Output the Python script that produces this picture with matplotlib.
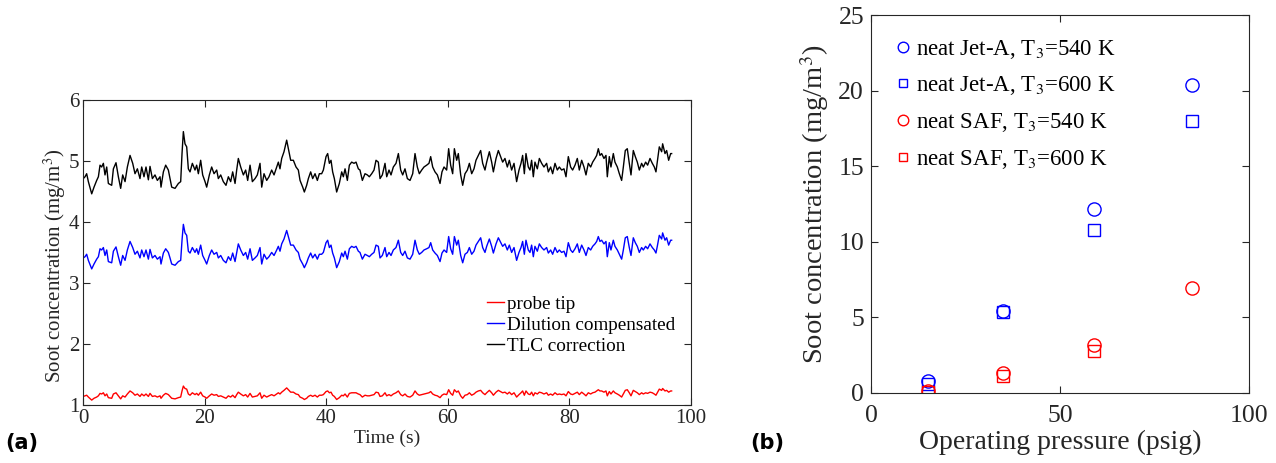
import matplotlib
matplotlib.use("Agg")
import matplotlib.pyplot as plt

# ---------------- data: panel (a) ----------------
time_s = [0.0, 0.28, 0.55, 0.83, 1.38, 1.76, 2.20, 2.48, 2.75, 3.02, 3.30, 3.57, 3.85, 4.12, 4.67, 4.95, 5.38, 5.77, 6.15, 6.48,
          6.87, 7.25, 7.69, 8.13, 8.51, 8.90, 9.33, 9.61, 9.99, 10.32, 10.71, 10.98, 11.37, 11.80, 12.19, 12.63, 12.79, 13.18, 13.56, 14.00,
          14.27, 14.55, 15.10, 15.65, 16.03, 16.25, 16.47, 16.74, 17.02, 17.29, 17.57, 17.95, 18.39, 18.66, 18.94, 19.32, 19.65, 20.04, 20.31, 20.75,
          21.13, 21.52, 21.96, 22.23, 22.62, 23.05, 23.49, 23.88, 24.26, 24.59, 24.98, 25.25, 25.52, 25.91, 26.35, 26.73, 27.06, 27.45, 27.83, 28.27,
          28.65, 29.09, 29.37, 29.75, 30.19, 30.57, 31.01, 31.40, 31.84, 32.11, 32.38, 32.66, 33.04, 33.48, 33.87, 34.14,
          34.58, 35.02, 35.40, 35.68, 36.12, 36.39, 36.77, 37.05, 37.43, 37.76, 38.15, 38.53, 38.86, 39.24, 39.52, 39.96, 40.23, 40.51, 40.78, 41.05,
          41.33, 41.71, 42.15, 42.54, 42.81, 43.09, 43.47, 43.80, 44.18, 44.57, 44.90, 45.28, 45.55, 45.94, 46.38, 46.76, 47.09, 47.48, 47.86, 48.19,
          48.57, 48.85, 49.23, 49.67, 49.95, 50.33, 50.66, 51.04, 51.48, 51.87, 52.25, 52.58, 52.96, 53.35, 53.79, 54.23, 54.61, 54.99, 55.32, 55.71,
          56.09, 56.53, 56.91, 57.19, 57.52, 57.90, 58.29, 58.73, 59.05, 59.39, 59.82, 60.15, 60.48, 60.81, 61.09, 61.47, 61.74, 62.13, 62.46, 62.84,
          63.23, 63.56, 63.94, 64.32, 64.65, 65.04, 65.42, 65.75, 66.13, 66.41, 66.85, 67.23, 67.51, 67.95, 68.33,
          69.04, 69.42, 69.81, 70.14, 70.52, 70.91, 71.34, 71.73, 72.06, 72.33, 72.61, 72.88, 73.26, 73.54, 73.81, 74.09, 74.36, 74.75, 75.08, 75.46,
          75.84, 76.28, 76.56, 76.94, 77.27, 77.66, 78.04, 78.37, 78.75, 79.14, 79.47, 79.85, 80.23, 80.56, 80.95, 81.33, 81.66, 82.05, 82.43, 82.76,
          83.14, 83.53, 83.86, 84.24, 84.52, 84.79, 85.06, 85.34, 85.72, 86.05, 86.27, 86.60, 86.87, 87.26, 87.53, 87.92, 88.25, 88.63, 88.91, 89.23,
          89.56, 89.89, 90.17, 90.55, 90.88, 91.21, 91.54, 91.92, 92.20, 92.58, 92.91, 93.30, 93.68, 94.01, 94.28, 94.50, 94.83, 95.22, 95.38, 95.77,
          96.04, 96.37, 96.70, 96.86]

tlc_correction = [4.71, 4.74, 4.79, 4.66, 4.46, 4.57, 4.68, 4.74, 4.93, 4.90, 4.96, 4.77, 4.90, 4.63, 4.60, 4.87, 4.97, 4.74, 4.55, 4.77,
                  4.66, 4.90, 5.09, 4.96, 4.79, 4.87, 4.71, 4.90, 4.74, 4.90, 4.69, 4.91, 4.71, 4.77, 4.68, 4.74, 4.57, 4.82, 4.93, 4.85,
                  4.71, 4.57, 4.55, 4.63, 4.66, 5.12, 5.48, 5.28, 5.23, 4.87, 4.82, 4.96, 4.85, 4.93, 4.79, 5.01, 4.77, 4.66, 4.57, 4.77,
                  4.90, 4.79, 4.85, 4.71, 4.77, 4.66, 4.60, 4.74, 4.66, 4.82, 4.63, 4.85, 5.04, 4.90, 4.77, 4.85, 4.68, 4.93, 4.66, 4.71,
                  4.77, 4.96, 4.57, 4.79, 4.68, 4.74, 4.85, 4.77, 4.90, 4.98, 4.87, 5.04, 5.15, 5.34, 5.15, 5.01,
                  5.01, 4.90, 4.85, 4.68, 4.57, 4.49, 4.60, 4.71, 4.82, 4.71, 4.79, 4.68, 4.79, 4.79, 4.85, 5.07, 5.12, 4.96, 5.01, 4.82,
                  4.71, 4.49, 4.63, 4.82, 4.74, 4.87, 4.68, 4.93, 4.98, 4.96, 4.98, 4.87, 4.85, 4.68, 4.79, 4.77, 4.74, 4.79, 4.85, 5.01,
                  4.98, 4.71, 4.77, 4.96, 4.74, 4.85, 4.77, 4.90, 4.96, 5.12, 4.85, 4.77, 4.87, 4.71, 4.68, 4.79, 5.12, 4.90, 4.79, 4.85,
                  4.90, 4.93, 4.96, 5.07, 4.90, 4.82, 4.77, 4.63, 4.82, 4.90, 4.85, 5.20, 4.93, 4.79, 5.20, 5.01, 5.12, 4.77, 4.60, 4.79,
                  4.85, 4.96, 4.79, 4.87, 5.01, 5.09, 5.17, 4.96, 4.85, 4.98, 5.15, 4.98, 4.82, 5.04, 5.17,
                  4.98, 5.04, 4.90, 5.01, 4.85, 4.96, 4.66, 4.85, 4.96, 5.09, 4.79, 5.12, 4.90, 4.85, 5.01, 4.74, 4.98, 4.87, 5.04, 4.96,
                  4.90, 4.96, 4.82, 4.90, 4.79, 4.96, 4.85, 4.90, 4.85, 4.87, 4.74, 5.07, 4.90, 4.85, 4.93, 5.04, 4.85, 5.01, 4.90, 4.77,
                  4.96, 4.90, 4.98, 5.04, 5.09, 5.20, 5.09, 5.12, 5.04, 5.09, 4.74, 5.07, 4.90, 5.12, 4.98, 4.90, 4.79, 4.68, 4.90, 5.17,
                  5.20, 4.96, 4.77, 5.17, 5.07, 4.98, 4.85, 4.96, 4.90, 4.98, 4.93, 5.04, 4.96, 4.90, 4.82, 4.98, 5.23, 5.15, 5.28, 5.12,
                  5.17, 5.01, 5.12, 5.12]

dilution_compensated = [3.41, 3.43, 3.47, 3.37, 3.23, 3.31, 3.39, 3.43, 3.56, 3.54, 3.58, 3.45, 3.54, 3.35, 3.33, 3.52, 3.59, 3.43, 3.29, 3.45,
                        3.37, 3.54, 3.68, 3.58, 3.47, 3.52, 3.41, 3.54, 3.43, 3.54, 3.39, 3.55, 3.41, 3.45, 3.39, 3.43, 3.31, 3.49, 3.56, 3.50,
                        3.41, 3.31, 3.29, 3.35, 3.37, 3.70, 3.96, 3.82, 3.78, 3.52, 3.49, 3.58, 3.50, 3.56, 3.47, 3.62, 3.45, 3.37, 3.31, 3.45,
                        3.54, 3.47, 3.50, 3.41, 3.45, 3.37, 3.33, 3.43, 3.37, 3.49, 3.35, 3.50, 3.64, 3.54, 3.45, 3.50, 3.39, 3.56, 3.37, 3.41,
                        3.45, 3.58, 3.31, 3.47, 3.39, 3.43, 3.50, 3.45, 3.54, 3.60, 3.52, 3.64, 3.72, 3.86, 3.72, 3.62,
                        3.62, 3.54, 3.50, 3.39, 3.31, 3.25, 3.33, 3.41, 3.49, 3.41, 3.47, 3.39, 3.47, 3.47, 3.50, 3.66, 3.70, 3.58, 3.62, 3.49,
                        3.41, 3.25, 3.35, 3.49, 3.43, 3.52, 3.39, 3.56, 3.60, 3.58, 3.60, 3.52, 3.50, 3.39, 3.47, 3.45, 3.43, 3.47, 3.50, 3.62,
                        3.60, 3.41, 3.45, 3.58, 3.43, 3.50, 3.45, 3.54, 3.58, 3.70, 3.50, 3.45, 3.52, 3.41, 3.39, 3.47, 3.70, 3.54, 3.47, 3.50,
                        3.54, 3.56, 3.58, 3.66, 3.54, 3.49, 3.45, 3.35, 3.49, 3.54, 3.50, 3.76, 3.56, 3.47, 3.76, 3.62, 3.70, 3.45, 3.33, 3.47,
                        3.50, 3.58, 3.47, 3.52, 3.62, 3.68, 3.74, 3.58, 3.50, 3.60, 3.72, 3.60, 3.49, 3.64, 3.74,
                        3.60, 3.64, 3.54, 3.62, 3.50, 3.58, 3.37, 3.50, 3.58, 3.68, 3.47, 3.70, 3.54, 3.50, 3.62, 3.43, 3.60, 3.52, 3.64, 3.58,
                        3.54, 3.58, 3.49, 3.54, 3.47, 3.58, 3.50, 3.54, 3.50, 3.52, 3.43, 3.66, 3.54, 3.50, 3.56, 3.64, 3.50, 3.62, 3.54, 3.45,
                        3.58, 3.54, 3.60, 3.64, 3.68, 3.76, 3.68, 3.70, 3.64, 3.68, 3.43, 3.66, 3.54, 3.70, 3.60, 3.54, 3.47, 3.39, 3.54, 3.74,
                        3.76, 3.58, 3.45, 3.74, 3.66, 3.60, 3.50, 3.58, 3.54, 3.60, 3.56, 3.64, 3.58, 3.54, 3.49, 3.60, 3.78, 3.72, 3.82, 3.70,
                        3.74, 3.62, 3.70, 3.70]

probe_tip = [1.14, 1.15, 1.16, 1.13, 1.08, 1.11, 1.13, 1.15, 1.19, 1.18, 1.20, 1.15, 1.18, 1.12, 1.11, 1.18, 1.20, 1.15, 1.10, 1.15,
             1.13, 1.18, 1.23, 1.20, 1.16, 1.18, 1.14, 1.18, 1.15, 1.18, 1.14, 1.19, 1.14, 1.15, 1.13, 1.15, 1.11, 1.16, 1.19, 1.17,
             1.14, 1.11, 1.10, 1.12, 1.13, 1.23, 1.31, 1.27, 1.26, 1.18, 1.16, 1.20, 1.17, 1.19, 1.16, 1.21, 1.15, 1.13, 1.11, 1.15,
             1.18, 1.16, 1.17, 1.14, 1.15, 1.13, 1.11, 1.15, 1.13, 1.16, 1.12, 1.17, 1.21, 1.18, 1.15, 1.17, 1.13, 1.19, 1.13, 1.14,
             1.15, 1.20, 1.11, 1.16, 1.13, 1.15, 1.17, 1.15, 1.18, 1.20, 1.18, 1.21, 1.24, 1.28, 1.24, 1.21,
             1.21, 1.18, 1.17, 1.13, 1.11, 1.09, 1.11, 1.14, 1.16, 1.14, 1.16, 1.13, 1.16, 1.16, 1.17, 1.22, 1.23, 1.20, 1.21, 1.16,
             1.14, 1.09, 1.12, 1.16, 1.15, 1.18, 1.13, 1.19, 1.20, 1.20, 1.20, 1.18, 1.17, 1.13, 1.16, 1.15, 1.15, 1.16, 1.17, 1.21,
             1.20, 1.14, 1.15, 1.20, 1.15, 1.17, 1.15, 1.18, 1.20, 1.23, 1.17, 1.15, 1.18, 1.14, 1.13, 1.16, 1.23, 1.18, 1.16, 1.17,
             1.18, 1.19, 1.20, 1.22, 1.18, 1.16, 1.15, 1.12, 1.16, 1.18, 1.17, 1.25, 1.19, 1.16, 1.25, 1.21, 1.23, 1.15, 1.11, 1.16,
             1.17, 1.20, 1.16, 1.18, 1.21, 1.23, 1.24, 1.20, 1.17, 1.20, 1.24, 1.20, 1.16, 1.21, 1.24,
             1.20, 1.21, 1.18, 1.21, 1.17, 1.20, 1.13, 1.17, 1.20, 1.23, 1.16, 1.23, 1.18, 1.17, 1.21, 1.15, 1.20, 1.18, 1.21, 1.20,
             1.18, 1.20, 1.16, 1.18, 1.16, 1.20, 1.17, 1.18, 1.17, 1.18, 1.15, 1.22, 1.18, 1.17, 1.19, 1.21, 1.17, 1.21, 1.18, 1.15,
             1.20, 1.18, 1.20, 1.21, 1.23, 1.25, 1.23, 1.23, 1.21, 1.23, 1.15, 1.22, 1.18, 1.23, 1.20, 1.18, 1.16, 1.13, 1.18, 1.24,
             1.25, 1.20, 1.15, 1.24, 1.22, 1.20, 1.17, 1.20, 1.18, 1.20, 1.19, 1.21, 1.20, 1.18, 1.16, 1.20, 1.26, 1.24, 1.27, 1.23,
             1.24, 1.21, 1.23, 1.23]

series_a_labels = ["probe tip", "Dilution compensated", "TLC correction"]
a_xticks = [0, 20, 40, 60, 80, 100]
a_yticks = [1, 2, 3, 4, 5, 6]

# ---------------- data: panel (b) ----------------
pressure_psig = [15, 35, 59, 85]
jetA_540 = [0.8, 5.4, 12.2, 20.35]
jetA_600 = [0.6, 5.35, 10.75, 18.0]
saf_540 = [0.1, 1.3, 3.15, 6.95]
saf_600_pressure = [15, 35, 59]
saf_600 = [0.05, 1.12, 2.8]
series_b_labels = ["neat Jet-A, T$_3$=540 K", "neat Jet-A, T$_3$=600 K",
                   "neat SAF, T$_3$=540 K", "neat SAF, T$_3$=600 K"]
b_xticks = [0, 50, 100]
b_yticks = [0, 5, 10, 15, 20, 25]

# ---------------- style ----------------
plt.rcParams['font.family'] = ['Liberation Serif', 'DejaVu Serif']
plt.rcParams['mathtext.fontset'] = 'stix'
axc = '#262626'

fig = plt.figure(figsize=(12.76, 4.63), dpi=100)

# panel (a)
axa = fig.add_axes([0.0653, 0.1253, 0.476, 0.659])
axa.plot(time_s, probe_tip, color='#ff0000', lw=1.0, label=series_a_labels[0])
axa.plot(time_s, dilution_compensated, color='#0000ff', lw=1.0, label=series_a_labels[1])
axa.plot(time_s, tlc_correction, color='black', lw=1.0, label=series_a_labels[2])
axa.set_xlim(0, 100)
axa.set_ylim(1, 6)
axa.set_xticks(a_xticks)
axa.set_yticks(a_yticks)
axa.set_xlabel('Time (s)', fontsize=14, color=axc, labelpad=1)
axa.set_ylabel('Soot concentration (mg/m$^3$)', fontsize=15, color=axc)
axa.yaxis.set_label_coords(-0.026, 0.455)
axa.tick_params(direction='in', top=True, right=True, labelsize=15, colors=axc,
                length=5, width=0.8, pad=3)
for s in axa.spines.values():
    s.set_color(axc)
    s.set_linewidth(0.8)
leg = axa.legend(loc='upper left', bbox_to_anchor=(0.665, 0.36), frameon=False,
                 fontsize=13.8, handlelength=0.9, handletextpad=0.15, labelspacing=0.19,
                 borderpad=0, borderaxespad=0)
for t in leg.get_texts():
    t.set_color('black')

# panel (b)
axb = fig.add_axes([0.6826, 0.1512, 0.2962, 0.8164])
axb.plot(pressure_psig, jetA_540, linestyle='none', marker='o', ms=9.5, mfc='none',
         mec='#0000ff', mew=1.0, label=series_b_labels[0])
axb.plot(pressure_psig, jetA_600, linestyle='none', marker='s', ms=8, mfc='none',
         mec='#0000ff', mew=1.0, label=series_b_labels[1])
axb.plot(pressure_psig, saf_540, linestyle='none', marker='o', ms=9.5, mfc='none',
         mec='#ff0000', mew=1.0, label=series_b_labels[2])
axb.plot(saf_600_pressure, saf_600, linestyle='none', marker='s', ms=8, mfc='none',
         mec='#ff0000', mew=1.0, label=series_b_labels[3])
axb.set_xlim(0, 100)
axb.set_ylim(0, 25)
axb.set_xticks(b_xticks)
axb.set_yticks(b_yticks)
axb.set_xlabel('Operating pressure (psig)', fontsize=20, color=axc, labelpad=2)
axb.set_ylabel('Soot concentration (mg/m$^3$)', fontsize=20.5, color=axc, labelpad=5)
axb.tick_params(direction='in', top=True, right=True, labelsize=18.5, colors=axc,
                length=5, width=0.8)
axb.tick_params(axis='x', pad=9)
axb.tick_params(axis='y', pad=5)
for s in axb.spines.values():
    s.set_color(axc)
    s.set_linewidth(0.8)
legb = axb.legend(loc='upper left', bbox_to_anchor=(0.067, 0.94), frameon=False,
                  fontsize=16.5, handlelength=0.6, handletextpad=0.25, labelspacing=0.6,
                  borderpad=0, borderaxespad=0, markerscale=0.8)
for t in legb.get_texts():
    t.set_color('black')

fig.text(0.004, 0.03, '(a)', fontfamily='DejaVu Sans', fontweight='bold', fontsize=15, color='black')
fig.text(0.588, 0.03, '(b)', fontfamily='DejaVu Sans', fontweight='bold', fontsize=15, color='black')

fig.savefig('out.png', dpi=100)
